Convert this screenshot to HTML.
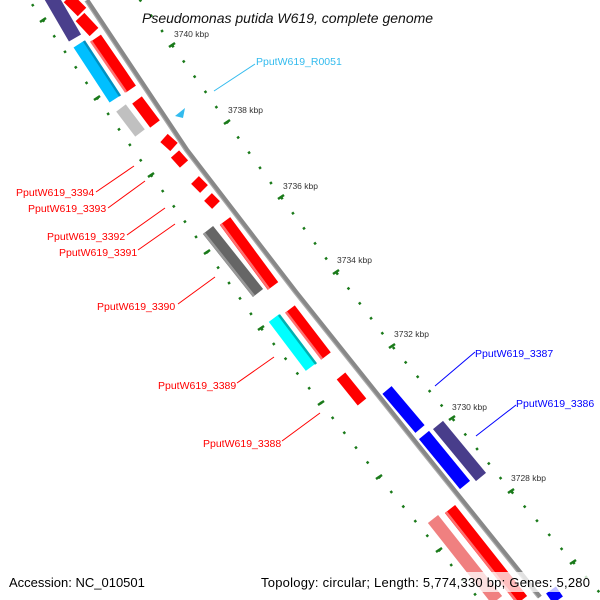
<!DOCTYPE html>
<html><head><meta charset="utf-8"><style>
html,body{margin:0;padding:0;background:#fff;width:600px;height:600px;overflow:hidden;}
svg{display:block;font-family:"Liberation Sans","DejaVu Sans",sans-serif;overflow:hidden;}
</style></head><body>
<svg width="600" height="600" viewBox="0 0 600 600" xmlns="http://www.w3.org/2000/svg">
<rect width="600" height="600" fill="#fff"/>
<g fill="none" stroke="#1a7a1a" stroke-width="2.5">
<polyline points="118,-31 172,45 227,122 281,197 336,272 392,346 452,418 511,491 573,562 600,593" stroke-dasharray="2.5 16.2"/>
<polyline points="-11,-58 43,20 97,98 151,175 207,252 261,328 321,403 379,477 439,550 478,598" stroke-dasharray="2.5 16.4"/>
</g>
<g stroke="#1a7a1a" stroke-width="2.5" stroke-linecap="butt">
<line x1="169" y1="47" x2="175" y2="43"/><line x1="224" y1="124" x2="230" y2="120"/>
<line x1="278" y1="199" x2="284" y2="195"/><line x1="333" y1="274" x2="339" y2="270"/>
<line x1="389" y1="348" x2="395" y2="344"/><line x1="449" y1="420" x2="455" y2="416"/>
<line x1="508" y1="493" x2="514" y2="489"/><line x1="570" y1="564" x2="576" y2="560"/>
<line x1="40" y1="22" x2="46" y2="18"/><line x1="94" y1="100" x2="100" y2="96"/>
<line x1="148" y1="177" x2="154" y2="173"/><line x1="204" y1="254" x2="210" y2="250"/>
<line x1="258" y1="330" x2="264" y2="326"/><line x1="318" y1="405" x2="324" y2="401"/>
<line x1="376" y1="479" x2="382" y2="475"/><line x1="436" y1="552" x2="442" y2="548"/>
</g>
<g font-size="8.5" fill="#333">
<text x="174" y="37">3740 kbp</text><text x="228" y="113">3738 kbp</text>
<text x="283" y="189">3736 kbp</text><text x="337" y="263">3734 kbp</text>
<text x="394" y="337">3732 kbp</text><text x="452" y="410">3730 kbp</text>
<text x="511" y="481">3728 kbp</text>
</g>
<polyline points="87,0 187,150 296,292 422,450 540,597" fill="none" stroke="#888" stroke-width="4.5"/>
<polyline points="85,1 185,151 294,293 420,451 538,598" fill="none" stroke="#aaa" stroke-width="1.2"/>
<g stroke-linecap="butt">
<line x1="50" y1="-5" x2="75" y2="38" stroke="#4a3f8c" stroke-width="14"/>
<line x1="68" y1="-2" x2="82" y2="12" stroke="#ff0000" stroke-width="12"/>
<line x1="80" y1="17" x2="94" y2="32" stroke="#ff0000" stroke-width="12"/>
<line x1="79" y1="44" x2="115" y2="99" stroke="#00bfff" stroke-width="13"/>
<line x1="84" y1="41" x2="120" y2="96" stroke="#0090c0" stroke-width="2.5"/>
<line x1="96" y1="38" x2="131" y2="89" stroke="#ff0000" stroke-width="12"/>
<line x1="91" y1="41" x2="126" y2="92" stroke="#ff7070" stroke-width="2.5"/>
<line x1="121" y1="108" x2="140" y2="133" stroke="#c0c0c0" stroke-width="12"/>
<line x1="137" y1="100" x2="155" y2="124" stroke="#ff0000" stroke-width="12"/>
<line x1="164" y1="138" x2="174" y2="147" stroke="#ff0000" stroke-width="11"/>
<line x1="175" y1="154" x2="184" y2="164" stroke="#ff0000" stroke-width="11"/>
<line x1="195" y1="180" x2="204" y2="189" stroke="#ff0000" stroke-width="11"/>
<line x1="208" y1="197" x2="216" y2="205" stroke="#ff0000" stroke-width="11"/>
<line x1="225" y1="221" x2="273" y2="286" stroke="#ff0000" stroke-width="13"/>
<line x1="221" y1="224" x2="269" y2="289" stroke="#ff7070" stroke-width="2.5"/>
<line x1="208" y1="230" x2="258" y2="293" stroke="#666" stroke-width="13"/>
<line x1="204" y1="233" x2="254" y2="296" stroke="#999" stroke-width="2.5"/>
<line x1="290" y1="309" x2="326" y2="356" stroke="#ff0000" stroke-width="12"/>
<line x1="286" y1="312" x2="322" y2="359" stroke="#ff7070" stroke-width="2.5"/>
<line x1="274" y1="318" x2="311" y2="367" stroke="#00ffff" stroke-width="13"/>
<line x1="279" y1="315" x2="316" y2="364" stroke="#00b0b0" stroke-width="2.5"/>
<line x1="341" y1="376" x2="362" y2="402" stroke="#ff0000" stroke-width="11"/>
<line x1="387" y1="390" x2="420" y2="429" stroke="#0000ff" stroke-width="12"/>
<line x1="424" y1="435" x2="465" y2="485" stroke="#0000ff" stroke-width="13"/>
<line x1="438" y1="425" x2="481" y2="477" stroke="#483d8b" stroke-width="13"/>
<line x1="433" y1="519" x2="497" y2="600" stroke="#f08080" stroke-width="13"/>
<line x1="450" y1="509" x2="522" y2="600" stroke="#ff0000" stroke-width="13"/>
<line x1="446" y1="512" x2="517" y2="602" stroke="#ff7070" stroke-width="2.5"/>
<line x1="551" y1="590" x2="558" y2="600" stroke="#0000ff" stroke-width="12"/>
</g>
<polygon points="175,116 185,108 183,118" fill="#33bbee"/>
<g stroke-width="1" fill="none">
<line x1="96" y1="192" x2="134" y2="166" stroke="#f00"/>
<line x1="108" y1="208" x2="145" y2="181" stroke="#f00"/>
<line x1="127" y1="235" x2="165" y2="208" stroke="#f00"/>
<line x1="138" y1="250" x2="175" y2="224" stroke="#f00"/>
<line x1="178" y1="304" x2="215" y2="277" stroke="#f00"/>
<line x1="237" y1="383" x2="274" y2="357" stroke="#f00"/>
<line x1="282" y1="441" x2="320" y2="413" stroke="#f00"/>
<line x1="214" y1="91" x2="255" y2="64" stroke="#33bbee"/>
<line x1="435" y1="386" x2="475" y2="352" stroke="#00f"/>
<line x1="476" y1="436" x2="516" y2="405" stroke="#00f"/>
</g>
<g font-size="10.5" fill="#f00">
<text x="16" y="196">PputW619_3394</text>
<text x="28" y="212">PputW619_3393</text>
<text x="47" y="240">PputW619_3392</text>
<text x="59" y="256">PputW619_3391</text>
<text x="97" y="310">PputW619_3390</text>
<text x="158" y="389">PputW619_3389</text>
<text x="203" y="447">PputW619_3388</text>
<text x="256" y="65" fill="#33bbee">PputW619_R0051</text>
<text x="475" y="357" fill="#00f">PputW619_3387</text>
<text x="516" y="407" fill="#00f">PputW619_3386</text>
</g>
<text x="142" y="23" font-size="14" font-style="italic" fill="#111">Pseudomonas putida W619, complete genome</text>
<rect x="255" y="572" width="340" height="20" fill="#fff" opacity="0.75"/>
<rect x="5" y="572" width="142" height="20" fill="#fff" opacity="0.75"/>
<text x="9" y="587" font-size="13" fill="#000">Accession: NC_010501</text>
<text x="261" y="587" font-size="13" fill="#000" textLength="329">Topology: circular; Length: 5,774,330 bp; Genes: 5,280</text>
</svg>
</body></html>
